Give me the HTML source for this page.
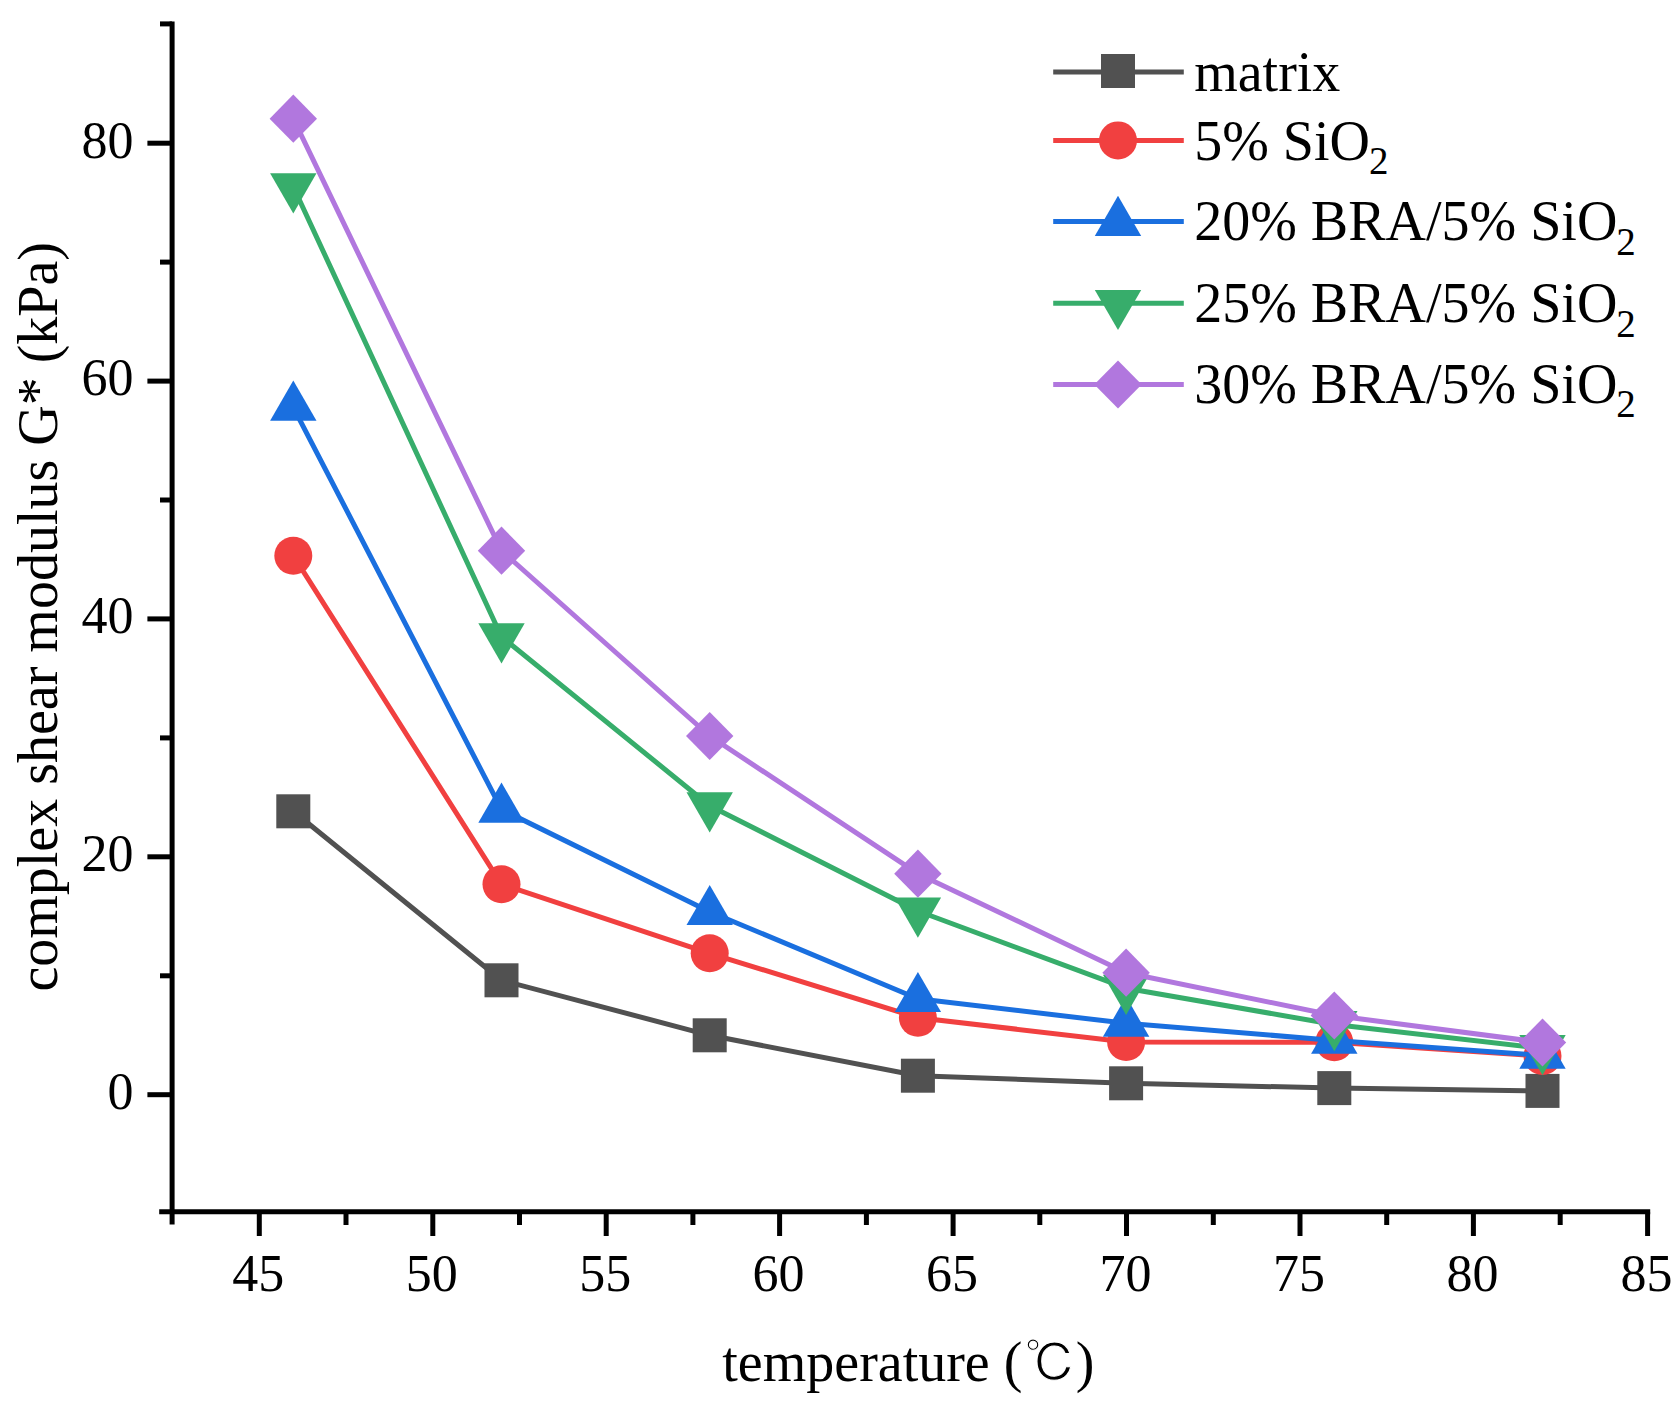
<!DOCTYPE html>
<html lang="en">
<head>
<meta charset="utf-8">
<title>complex shear modulus G* vs temperature</title>
<style>
html,body{margin:0;padding:0;background:#fff;}
body{width:1679px;height:1411px;overflow:hidden;}
svg{display:block;}
text{font-family:"Liberation Serif","Noto Serif CJK SC",serif;fill:#000;}
.tk{font-size:52px;}
.lg{font-size:56px;}
.ti{font-size:56px;}
.ax{stroke:#000;stroke-width:5;fill:none;}
</style>
</head>
<body>
<svg width="1679" height="1411" viewBox="0 0 1679 1411">
<rect x="0" y="0" width="1679" height="1411" fill="#fff"/>

<g class="ax">
<line x1="172.1" y1="21.6" x2="172.1" y2="1224.5"/>
<line x1="159.2" y1="1211.8" x2="1650.2" y2="1211.8"/>
<line x1="147.4" y1="1094.7" x2="172.1" y2="1094.7"/>
<line x1="147.4" y1="856.8" x2="172.1" y2="856.8"/>
<line x1="147.4" y1="618.9" x2="172.1" y2="618.9"/>
<line x1="147.4" y1="381.1" x2="172.1" y2="381.1"/>
<line x1="147.4" y1="143.2" x2="172.1" y2="143.2"/>
<line x1="160" y1="975.8" x2="172.1" y2="975.8"/>
<line x1="160" y1="737.9" x2="172.1" y2="737.9"/>
<line x1="160" y1="500.0" x2="172.1" y2="500.0"/>
<line x1="160" y1="262.1" x2="172.1" y2="262.1"/>
<line x1="160" y1="23.9" x2="172.1" y2="23.9"/>
<line x1="259.3" y1="1211.8" x2="259.3" y2="1236"/>
<line x1="432.8" y1="1211.8" x2="432.8" y2="1236"/>
<line x1="606.2" y1="1211.8" x2="606.2" y2="1236"/>
<line x1="779.6" y1="1211.8" x2="779.6" y2="1236"/>
<line x1="953.1" y1="1211.8" x2="953.1" y2="1236"/>
<line x1="1126.5" y1="1211.8" x2="1126.5" y2="1236"/>
<line x1="1300.0" y1="1211.8" x2="1300.0" y2="1236"/>
<line x1="1473.4" y1="1211.8" x2="1473.4" y2="1236"/>
<line x1="1647.6" y1="1211.8" x2="1647.6" y2="1236"/>
<line x1="346.0" y1="1211.8" x2="346.0" y2="1225"/>
<line x1="519.5" y1="1211.8" x2="519.5" y2="1225"/>
<line x1="692.9" y1="1211.8" x2="692.9" y2="1225"/>
<line x1="866.4" y1="1211.8" x2="866.4" y2="1225"/>
<line x1="1039.8" y1="1211.8" x2="1039.8" y2="1225"/>
<line x1="1213.3" y1="1211.8" x2="1213.3" y2="1225"/>
<line x1="1386.7" y1="1211.8" x2="1386.7" y2="1225"/>
<line x1="1560.2" y1="1211.8" x2="1560.2" y2="1225"/>
</g>
<g class="tk" text-anchor="end">
<text x="133.5" y="1109.0">0</text>
<text x="133.5" y="871.1">20</text>
<text x="133.5" y="633.2">40</text>
<text x="133.5" y="395.4">60</text>
<text x="133.5" y="157.5">80</text>
</g>
<g class="tk" text-anchor="middle">
<text x="258.3" y="1290.6">45</text>
<text x="431.8" y="1290.6">50</text>
<text x="605.2" y="1290.6">55</text>
<text x="778.6" y="1290.6">60</text>
<text x="952.1" y="1290.6">65</text>
<text x="1125.5" y="1290.6">70</text>
<text x="1299.0" y="1290.6">75</text>
<text x="1472.4" y="1290.6">80</text>
<text x="1646.6" y="1290.6">85</text>
</g>
<text class="ti" x="722.3" y="1381.3">temperature (<tspan x="1024.5" y="1381.6" style="font-family:IPAGothic,'Noto Sans CJK JP',sans-serif;font-size:52px;stroke:#fff;stroke-width:1.1px">℃</tspan><tspan x="1075.8" y="1381.3">)</tspan></text>
<text class="ti" text-anchor="middle" transform="translate(57,616.8) rotate(-90)">complex shear modulus G* (kPa)</text>
<polyline points="293.3,811.3 501.5,980.3 709.7,1035.3 917.9,1075.7 1126.1,1083.3 1334.3,1088.1 1542.5,1090.9" fill="none" stroke="#515151" stroke-width="5.0" stroke-linejoin="round"/>
<rect x="276.3" y="794.3" width="34" height="34" fill="#515151"/>
<rect x="484.5" y="963.3" width="34" height="34" fill="#515151"/>
<rect x="692.7" y="1018.3" width="34" height="34" fill="#515151"/>
<rect x="900.9" y="1058.7" width="34" height="34" fill="#515151"/>
<rect x="1109.1" y="1066.3" width="34" height="34" fill="#515151"/>
<rect x="1317.3" y="1071.1" width="34" height="34" fill="#515151"/>
<rect x="1525.5" y="1073.9" width="34" height="34" fill="#515151"/>
<polyline points="293.3,555.7 501.5,884.3 709.7,953.3 917.9,1017.7 1126.1,1042.0 1334.3,1042.3 1542.5,1056.0" fill="none" stroke="#F14040" stroke-width="5.0" stroke-linejoin="round"/>
<circle cx="293.3" cy="555.7" r="19" fill="#F14040"/>
<circle cx="501.5" cy="884.3" r="19" fill="#F14040"/>
<circle cx="709.7" cy="953.3" r="19" fill="#F14040"/>
<circle cx="917.9" cy="1017.7" r="19" fill="#F14040"/>
<circle cx="1126.1" cy="1042.0" r="19" fill="#F14040"/>
<circle cx="1334.3" cy="1042.3" r="19" fill="#F14040"/>
<circle cx="1542.5" cy="1056.0" r="19" fill="#F14040"/>
<polyline points="293.3,407.3 501.5,809.4 709.7,911.7 917.9,998.7 1126.1,1023.3 1334.3,1040.4 1542.5,1055.4" fill="none" stroke="#1A6FDF" stroke-width="5.0" stroke-linejoin="round"/>
<polygon points="293.3,380.5 316.5,420.7 270.1,420.7" fill="#1A6FDF"/>
<polygon points="501.5,782.6 524.7,822.8 478.3,822.8" fill="#1A6FDF"/>
<polygon points="709.7,884.9 732.9,925.1 686.5,925.1" fill="#1A6FDF"/>
<polygon points="917.9,971.9 941.1,1012.1 894.7,1012.1" fill="#1A6FDF"/>
<polygon points="1126.1,996.5 1149.3,1036.7 1102.9,1036.7" fill="#1A6FDF"/>
<polygon points="1334.3,1013.6 1357.5,1053.8 1311.1,1053.8" fill="#1A6FDF"/>
<polygon points="1542.5,1028.6 1565.7,1068.8 1519.3,1068.8" fill="#1A6FDF"/>
<polyline points="293.3,186.7 501.5,636.7 709.7,805.7 917.9,911.0 1126.1,988.2 1334.3,1024.5 1542.5,1048.4" fill="none" stroke="#37AD6B" stroke-width="5.0" stroke-linejoin="round"/>
<polygon points="293.3,213.5 316.5,173.3 270.1,173.3" fill="#37AD6B"/>
<polygon points="501.5,663.5 524.7,623.3 478.3,623.3" fill="#37AD6B"/>
<polygon points="709.7,832.5 732.9,792.3 686.5,792.3" fill="#37AD6B"/>
<polygon points="917.9,937.8 941.1,897.6 894.7,897.6" fill="#37AD6B"/>
<polygon points="1126.1,1015.0 1149.3,974.8 1102.9,974.8" fill="#37AD6B"/>
<polygon points="1334.3,1051.3 1357.5,1011.1 1311.1,1011.1" fill="#37AD6B"/>
<polygon points="1542.5,1075.2 1565.7,1035.0 1519.3,1035.0" fill="#37AD6B"/>
<polyline points="293.3,118.7 501.5,550.7 709.7,736.0 917.9,873.7 1126.1,972.7 1334.3,1015.5 1542.5,1042.5" fill="none" stroke="#B177DE" stroke-width="5.0" stroke-linejoin="round"/>
<polygon points="293.3,94.6 317.0,118.7 293.3,142.8 269.6,118.7" fill="#B177DE"/>
<polygon points="501.5,526.6 525.2,550.7 501.5,574.8 477.8,550.7" fill="#B177DE"/>
<polygon points="709.7,711.9 733.4,736.0 709.7,760.1 686.0,736.0" fill="#B177DE"/>
<polygon points="917.9,849.6 941.6,873.7 917.9,897.8 894.2,873.7" fill="#B177DE"/>
<polygon points="1126.1,948.6 1149.8,972.7 1126.1,996.8 1102.4,972.7" fill="#B177DE"/>
<polygon points="1334.3,991.4 1358.0,1015.5 1334.3,1039.6 1310.6,1015.5" fill="#B177DE"/>
<polygon points="1542.5,1018.4 1566.2,1042.5 1542.5,1066.6 1518.8,1042.5" fill="#B177DE"/>
<line x1="1053.2" y1="72.0" x2="1183.8" y2="72.0" stroke="#515151" stroke-width="5.0"/>
<rect x="1101.0" y="54.0" width="34" height="34" fill="#515151"/>
<text class="lg" x="1194.2" y="91.1">matrix</text>
<line x1="1053.2" y1="140.4" x2="1183.8" y2="140.4" stroke="#F14040" stroke-width="5.0"/>
<circle cx="1118.0" cy="140.4" r="19" fill="#F14040"/>
<text class="lg" x="1194.2" y="159.7">5% SiO<tspan font-size="39px" dx="-1" dy="14.5">2</tspan></text>
<line x1="1053.2" y1="221.6" x2="1183.8" y2="221.6" stroke="#1A6FDF" stroke-width="5.0"/>
<polygon points="1118.0,195.8 1141.2,236.0 1094.8,236.0" fill="#1A6FDF"/>
<text class="lg" x="1194.2" y="240.4">20% BRA/5% SiO<tspan font-size="39px" dx="-1" dy="14.5">2</tspan></text>
<line x1="1053.2" y1="303.3" x2="1183.8" y2="303.3" stroke="#37AD6B" stroke-width="5.0"/>
<polygon points="1118.0,330.1 1141.2,289.9 1094.8,289.9" fill="#37AD6B"/>
<text class="lg" x="1194.2" y="322.2">25% BRA/5% SiO<tspan font-size="39px" dx="-1" dy="14.5">2</tspan></text>
<line x1="1053.2" y1="384.5" x2="1183.8" y2="384.5" stroke="#B177DE" stroke-width="5.0"/>
<polygon points="1118.0,360.4 1141.7,384.5 1118.0,408.6 1094.3,384.5" fill="#B177DE"/>
<text class="lg" x="1194.2" y="402.9">30% BRA/5% SiO<tspan font-size="39px" dx="-1" dy="14.5">2</tspan></text>
</svg>
</body>
</html>
